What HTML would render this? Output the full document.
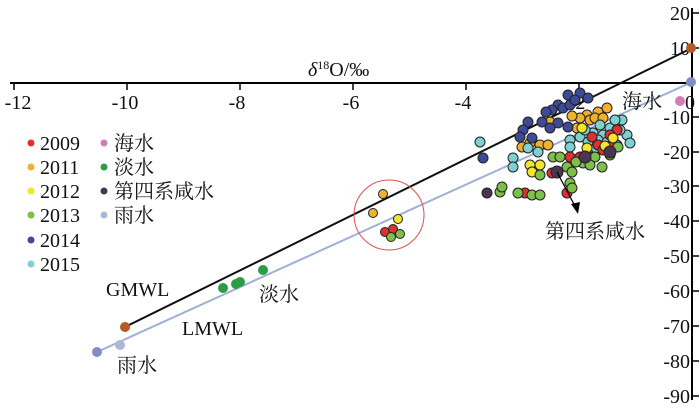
<!DOCTYPE html>
<html><head><meta charset="utf-8"><style>
body{margin:0;background:#fff}
svg text{font-family:"Liberation Serif","Noto Serif CJK SC",serif;fill:#111}
</style></head><body>
<svg width="700" height="409" viewBox="0 0 700 409" xmlns="http://www.w3.org/2000/svg">
<line x1="10" y1="83" x2="694" y2="83" stroke="#000" stroke-width="2"/>
<line x1="692" y1="8" x2="692" y2="400" stroke="#000" stroke-width="2"/>
<g stroke="#000" stroke-width="1.5">
<line x1="14" y1="83" x2="14" y2="90"/><line x1="127" y1="83" x2="127" y2="90"/><line x1="240" y1="83" x2="240" y2="90"/><line x1="353" y1="83" x2="353" y2="90"/><line x1="466" y1="83" x2="466" y2="90"/><line x1="579" y1="83" x2="579" y2="90"/>
<line x1="692" y1="13" x2="699" y2="13"/><line x1="692" y1="48" x2="699" y2="48"/><line x1="692" y1="117" x2="699" y2="117"/><line x1="692" y1="152" x2="699" y2="152"/><line x1="692" y1="186" x2="699" y2="186"/><line x1="692" y1="221" x2="699" y2="221"/><line x1="692" y1="256" x2="699" y2="256"/><line x1="692" y1="291" x2="699" y2="291"/><line x1="692" y1="326" x2="699" y2="326"/><line x1="692" y1="361" x2="699" y2="361"/><line x1="692" y1="396" x2="699" y2="396"/>
</g>
<g font-size="20" text-anchor="middle">
<text x="18" y="109">-12</text><text x="125" y="109">-10</text><text x="237" y="109">-8</text><text x="351" y="109">-6</text><text x="463" y="109">-4</text><text x="577" y="109">-2</text><text x="690" y="109">0</text>
</g>
<g font-size="20" text-anchor="end">
<text x="690" y="20">20</text><text x="690" y="55">10</text><text x="690" y="124">-10</text><text x="690" y="159">-20</text><text x="690" y="193">-30</text><text x="690" y="228">-40</text><text x="690" y="263">-50</text><text x="690" y="298">-60</text><text x="690" y="333">-70</text><text x="690" y="368">-80</text><text x="690" y="403">-90</text>
</g>
<text x="308" y="76" font-size="20"><tspan font-style="italic">δ</tspan><tspan font-size="12" dy="-7">18</tspan><tspan dy="7">O/‰</tspan></text>
<line x1="125" y1="327" x2="692" y2="48" stroke="#111" stroke-width="2"/>
<line x1="97" y1="352" x2="692" y2="82" stroke="#9fb0d6" stroke-width="2"/>
<circle cx="125" cy="327" r="5" fill="#b35a25"/>
<circle cx="691" cy="48" r="5" fill="#b35a25"/>
<circle cx="691" cy="82" r="5" fill="#7f8fc4"/>
<circle cx="97" cy="352" r="5" fill="#7f8fc4"/>
<circle cx="120" cy="345" r="5" fill="#a9b8d8"/>
<circle cx="680" cy="101" r="5" fill="#d37cb6"/>
<g fill="#2a9d45"><circle cx="223" cy="288" r="5"/><circle cx="236" cy="284" r="5"/><circle cx="240" cy="282" r="5"/><circle cx="263" cy="270" r="5"/></g>
<circle cx="389" cy="215" r="35" fill="none" stroke="#e05050" stroke-width="1"/>
<g stroke="#222" stroke-width="1">
<g fill="#f0b030"><circle cx="383" cy="194" r="4.5"/><circle cx="373" cy="213" r="4.5"/><circle cx="607" cy="108" r="5"/><circle cx="598" cy="112" r="5"/><circle cx="587" cy="115" r="5"/><circle cx="580" cy="118" r="5"/><circle cx="550" cy="122" r="5"/><circle cx="577" cy="128" r="5"/><circle cx="590" cy="120" r="5"/><circle cx="522" cy="147" r="5"/><circle cx="540" cy="145" r="5"/><circle cx="548" cy="145" r="5"/><circle cx="530" cy="143" r="5"/><circle cx="595" cy="118" r="5"/><circle cx="572" cy="116" r="5"/><circle cx="603" cy="118" r="5"/></g>
<g fill="#3d4b96"><circle cx="568" cy="95" r="5"/><circle cx="580" cy="93" r="5"/><circle cx="588" cy="98" r="5"/><circle cx="558" cy="105" r="5"/><circle cx="552" cy="110" r="5"/><circle cx="563" cy="108" r="5"/><circle cx="570" cy="105" r="5"/><circle cx="528" cy="122" r="5"/><circle cx="542" cy="122" r="5"/><circle cx="558" cy="123" r="5"/><circle cx="568" cy="127" r="5"/><circle cx="550" cy="128" r="5"/><circle cx="523" cy="130" r="5"/><circle cx="520" cy="137" r="5"/><circle cx="532" cy="138" r="5"/><circle cx="483" cy="158" r="5"/><circle cx="546" cy="112" r="5"/><circle cx="575" cy="100" r="5"/></g>
<g fill="#7fd0d0"><circle cx="622" cy="120" r="5"/><circle cx="627" cy="135" r="5"/><circle cx="480" cy="142" r="5"/><circle cx="603" cy="135" r="5"/><circle cx="593" cy="133" r="5"/><circle cx="610" cy="128" r="5"/><circle cx="570" cy="140" r="5"/><circle cx="580" cy="137" r="5"/><circle cx="588" cy="142" r="5"/><circle cx="598" cy="140" r="5"/><circle cx="528" cy="148" r="5"/><circle cx="538" cy="152" r="5"/><circle cx="513" cy="158" r="5"/><circle cx="513" cy="167" r="5"/><circle cx="570" cy="147" r="5"/><circle cx="617" cy="145" r="5"/><circle cx="630" cy="143" r="5"/><circle cx="607" cy="142" r="5"/><circle cx="600" cy="125" r="5"/><circle cx="615" cy="120" r="5"/><circle cx="585" cy="130" r="5"/><circle cx="620" cy="130" r="5"/><circle cx="596" cy="148" r="5"/></g>
<g fill="#e03030"><circle cx="385" cy="232" r="4.5"/><circle cx="393" cy="229" r="4.5"/><circle cx="617" cy="130" r="5"/><circle cx="610" cy="135" r="5"/><circle cx="598" cy="145" r="5"/><circle cx="570" cy="157" r="5"/><circle cx="580" cy="157" r="5"/><circle cx="552" cy="173" r="5"/><circle cx="567" cy="193" r="5"/><circle cx="525" cy="193" r="5"/><circle cx="590" cy="157" r="5"/><circle cx="603" cy="150" r="5"/><circle cx="592" cy="137" r="5"/><circle cx="612" cy="145" r="5"/></g>
<g fill="#f2e52a"><circle cx="398" cy="219" r="4.5"/><circle cx="530" cy="165" r="5"/><circle cx="540" cy="165" r="5"/><circle cx="532" cy="172" r="5"/><circle cx="587" cy="148" r="5"/><circle cx="613" cy="138" r="5"/><circle cx="582" cy="128" r="5"/><circle cx="605" cy="146" r="5"/></g>
<g fill="#7cbf4a"><circle cx="400" cy="234" r="4.5"/><circle cx="391" cy="237" r="4.5"/><circle cx="553" cy="157" r="5"/><circle cx="560" cy="157" r="5"/><circle cx="567" cy="167" r="5"/><circle cx="540" cy="175" r="5"/><circle cx="572" cy="172" r="5"/><circle cx="570" cy="183" r="5"/><circle cx="572" cy="188" r="5"/><circle cx="518" cy="193" r="5"/><circle cx="500" cy="192" r="5"/><circle cx="502" cy="187" r="5"/><circle cx="532" cy="195" r="5"/><circle cx="540" cy="195" r="5"/><circle cx="602" cy="167" r="5"/><circle cx="595" cy="157" r="5"/><circle cx="583" cy="163" r="5"/><circle cx="618" cy="147" r="5"/><circle cx="610" cy="155" r="5"/><circle cx="590" cy="165" r="5"/><circle cx="576" cy="162" r="5"/></g>
<g fill="#4a3552"><circle cx="487" cy="193" r="5"/><circle cx="557" cy="172" r="6"/><circle cx="585" cy="157" r="6"/><circle cx="610" cy="152" r="6"/></g>
</g>
<line x1="557" y1="172" x2="576" y2="208" stroke="#000" stroke-width="1.3"/>
<polygon points="578,214 571,204 580,202" fill="#000"/>
<g font-size="20">
<text x="106" y="296">GMWL</text>
<text x="182" y="335">LMWL</text>
<text x="259" y="301">淡水</text>
<text x="117" y="372">雨水</text>
<text x="622" y="108">海水</text>
<text x="545" y="238">第四系咸水</text>
</g>
<g font-size="20">
<circle cx="31" cy="143" r="3.5" fill="#e03030"/><text x="40" y="150">2009</text>
<circle cx="31" cy="167" r="3.5" fill="#f0b030"/><text x="40" y="174">2011</text>
<circle cx="31" cy="191" r="3.5" fill="#f2e52a"/><text x="40" y="198">2012</text>
<circle cx="31" cy="215" r="3.5" fill="#7cbf4a"/><text x="40" y="222">2013</text>
<circle cx="31" cy="240" r="3.5" fill="#3d4b96"/><text x="40" y="247">2014</text>
<circle cx="31" cy="264" r="3.5" fill="#7fd0d0"/><text x="40" y="271">2015</text>
<circle cx="104" cy="143" r="3.5" fill="#d37cb6"/><text x="114" y="150">海水</text>
<circle cx="104" cy="167" r="3.5" fill="#2a9d45"/><text x="114" y="174">淡水</text>
<circle cx="104" cy="191" r="3.5" fill="#4a3552"/><text x="114" y="198">第四系咸水</text>
<circle cx="104" cy="215" r="3.5" fill="#a9b8d8"/><text x="114" y="222">雨水</text>
</g>
</svg>
</body></html>
